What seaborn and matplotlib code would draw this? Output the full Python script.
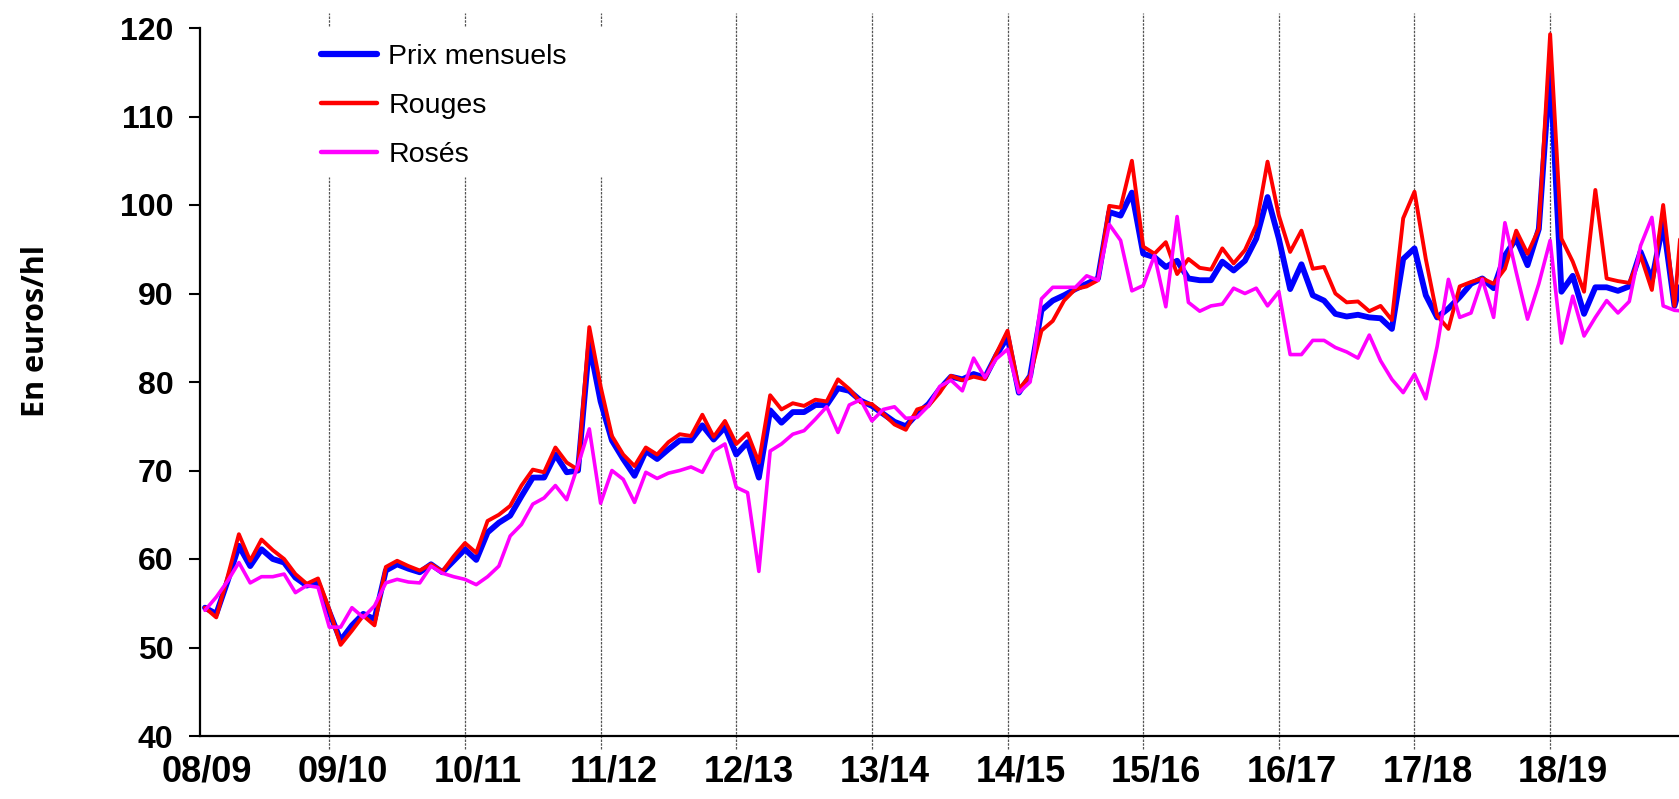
import numpy as np
import pandas as pd
import matplotlib
matplotlib.use('Agg')
import matplotlib.pyplot as plt
import seaborn as sns

# Prix mensuels (euros/hl), un point par mois, campagnes 08/09 -> 18/19
prix_mensuels = [
    54.5, 53.8, 57.5, 61.5, 59.2, 61.1, 60.0, 59.6, 57.9, 57.0, 57.3, 54.0,
    50.8, 52.5, 53.8, 53.2, 58.7, 59.4, 58.9, 58.5, 59.4, 58.5, 59.8, 61.1,
    59.9, 63.0, 64.1, 64.9, 67.1, 69.2, 69.2, 71.8, 69.8, 70.0, 84.3, 77.8,
    73.4, 71.3, 69.4, 72.2, 71.3, 72.4, 73.4, 73.4, 75.1, 73.5, 74.9, 71.8,
    73.2, 69.2, 76.8, 75.4, 76.6, 76.6, 77.4, 77.4, 79.3, 79.0, 77.9, 77.3,
    76.4, 75.5, 75.0, 76.4, 77.5, 79.2, 80.6, 80.3, 80.9, 80.5, 83.0, 85.1,
    78.8, 80.7, 88.1, 89.2, 89.8, 90.5, 91.1, 91.7, 99.2, 98.8, 101.4, 94.5,
    94.1, 93.0, 93.7, 91.7, 91.5, 91.5, 93.6, 92.6, 93.7, 96.2, 100.9, 96.2,
    90.5, 93.3, 89.8, 89.2, 87.7, 87.4, 87.6, 87.3, 87.2, 86.0, 93.9, 95.1,
    89.8, 87.3, 88.3, 89.6, 91.1, 91.7, 90.6, 94.3, 96.2, 93.2, 97.3, 115.5,
    90.2, 92.0, 87.7, 90.7, 90.7, 90.3, 90.8, 94.7, 91.5, 98.0, 88.6, 93.0,
]
rouges = [
    54.5, 53.4, 58.0, 62.8, 59.8, 62.2, 61.0, 60.0, 58.3, 57.2, 57.8, 54.3,
    50.3, 51.9, 53.6, 52.5, 59.1, 59.8, 59.2, 58.7, 59.4, 58.6, 60.3, 61.8,
    60.7, 64.3, 65.0, 66.0, 68.3, 70.1, 69.8, 72.6, 70.9, 70.1, 86.2, 79.5,
    73.9, 71.8, 70.5, 72.6, 71.8, 73.2, 74.1, 73.9, 76.3, 73.8, 75.6, 73.0,
    74.2, 70.9, 78.5, 76.9, 77.6, 77.3, 78.0, 77.8, 80.3, 79.2, 77.7, 77.5,
    76.4, 75.2, 74.6, 76.9, 77.3, 78.8, 80.7, 80.2, 80.6, 80.3, 83.2, 85.8,
    79.2, 80.7, 85.8, 86.9, 89.2, 90.5, 90.8, 91.5, 99.9, 99.7, 105.0, 95.3,
    94.5, 95.8, 92.2, 93.9, 92.9, 92.7, 95.1, 93.4, 94.9, 97.7, 104.9, 98.8,
    94.7, 97.1, 92.8, 93.0, 90.0, 89.0, 89.1, 88.0, 88.6, 87.0, 98.5, 101.5,
    93.9, 87.5, 86.0, 90.8, 91.3, 91.7, 91.1, 92.8, 97.1, 94.5, 97.3, 119.3,
    96.2, 93.6, 90.2, 101.7, 91.7, 91.4, 91.2, 94.3, 90.4, 100.0, 88.6, 104.0,
]
roses = [
    54.2, 55.7, 57.5, 59.6, 57.3, 58.0, 58.0, 58.3, 56.2, 57.0, 56.8, 52.3,
    52.3, 54.5, 53.4, 54.7, 57.3, 57.7, 57.4, 57.3, 59.2, 58.4, 58.0, 57.7,
    57.1, 58.0, 59.2, 62.6, 63.9, 66.2, 66.9, 68.3, 66.7, 70.6, 74.7, 66.3,
    70.0, 69.0, 66.4, 69.8, 69.1, 69.7, 70.0, 70.4, 69.8, 72.2, 73.0, 68.1,
    67.5, 58.6, 72.2, 73.0, 74.1, 74.5, 75.8, 77.2, 74.3, 77.4, 78.0, 75.6,
    76.9, 77.2, 75.9, 76.0, 77.3, 79.5, 80.2, 79.0, 82.7, 80.5, 82.6, 83.7,
    78.8, 80.0, 89.4, 90.7, 90.7, 90.7, 92.0, 91.5, 97.8, 96.0, 90.3, 90.9,
    94.3, 88.5, 98.7, 89.0, 88.0, 88.6, 88.8, 90.6, 90.0, 90.6, 88.6, 90.2,
    83.1, 83.1, 84.7, 84.7, 83.9, 83.4, 82.7, 85.3, 82.4, 80.3, 78.8, 80.9,
    78.1, 84.0, 91.6, 87.3, 87.8, 91.6, 87.3, 98.0, 92.4, 87.1, 91.1, 96.0,
    84.4, 89.7, 85.2, 87.3, 89.2, 87.8, 89.1, 95.4, 98.6, 88.6, 88.1, 88.0,
]
campagnes = ['08/09', '09/10', '10/11', '11/12', '12/13', '13/14',
             '14/15', '15/16', '16/17', '17/18', '18/19']
y_ticks = [40, 50, 60, 70, 80, 90, 100, 110, 120]

mois = np.arange(len(prix_mensuels))
df = pd.DataFrame({'mois': mois, 'Prix mensuels': prix_mensuels,
                   'Rouges': rouges, 'Rosés': roses})

sns.set_style('white')
plt.rcParams['font.family'] = ['Liberation Sans', 'DejaVu Sans']
plt.rcParams['text.color'] = 'black'
plt.rcParams['xtick.color'] = 'black'
plt.rcParams['ytick.color'] = 'black'

fig = plt.figure(figsize=(16.79, 7.99), dpi=100)
ax = fig.add_axes([200 / 1679, 1 - 736 / 799, 1 - 200 / 1679, (736 - 28) / 799])

# séparateurs de campagnes (pointillés gris)
lignes = [11 + 12 * j for j in range(10)]
for i, x in enumerate(lignes):
    if i < 3:
        # interrompus par la légende
        ax.vlines(x, 38.5, 103.2, color='#555555', lw=0.9, ls=(0, (2, 1)), clip_on=False, zorder=1)
        ax.vlines(x, 120.2, 121.7, color='#555555', lw=0.9, ls=(0, (2, 1)), clip_on=False, zorder=1)
    else:
        ax.vlines(x, 38.5, 121.7, color='#555555', lw=0.9, ls=(0, (2, 1)), clip_on=False, zorder=1)

sns.lineplot(data=df, x='mois', y='Prix mensuels', color='#0000FF', lw=4.2,
             label='Prix mensuels', ax=ax, zorder=3)
sns.lineplot(data=df, x='mois', y='Rouges', color='#FF0000', lw=2.8,
             label='Rouges', ax=ax, zorder=4)
sns.lineplot(data=df, x='mois', y='Rosés', color='#FF00FF', lw=2.6,
             label='Rosés', ax=ax, zorder=5)

ax.set_xlim(-0.44, 130.4)
ax.set_ylim(40, 120)
ax.set_yticks(y_ticks)
ax.set_yticklabels([str(v) for v in y_ticks], fontsize=23, fontweight='bold', color='black')
ax.set_xticks([12 * j + 0.15 for j in range(len(campagnes))])
ax.set_xticklabels(campagnes, fontsize=26, fontweight='bold', color='black')
ax.tick_params(axis='y', direction='out', length=8, width=1.5, pad=11, left=True)
ax.tick_params(axis='x', length=0, pad=13)
ax.set_xlabel('')
ax.set_ylabel('')

for s in ['top', 'right']:
    ax.spines[s].set_visible(False)
for s in ['left', 'bottom']:
    ax.spines[s].set_linewidth(1.6)
    ax.spines[s].set_color('black')

fig.text(36 / 1679, 1 - 331 / 799, 'En euros/hl', rotation=90, ha='center', va='center',
         fontsize=22, fontweight='bold', color='black', family=['Open Sans', 'DejaVu Sans'])

leg = ax.legend(loc='upper left', bbox_to_anchor=(321 / 1679, 1 - 44 / 799),
                bbox_transform=fig.transFigure, frameon=False, fontsize=20.5,
                handlelength=1.96, handletextpad=0.4, labelspacing=0.8, borderpad=0,
                borderaxespad=0)
for t in leg.get_texts():
    t.set_color('black')
for h in leg.get_lines():
    h.set_linewidth(4.5 if h.get_label() == 'Prix mensuels' else 3.2)

fig.savefig('out.png', dpi=100, facecolor='white')
